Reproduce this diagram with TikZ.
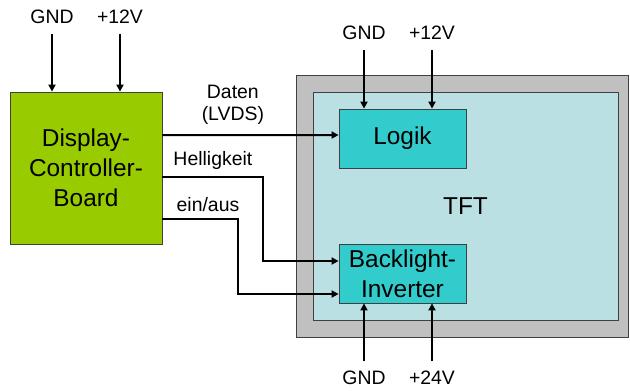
\documentclass[tikz,border=0pt]{standalone}
\usepackage{fontspec}
\setmainfont{Liberation Sans}
\usetikzlibrary{arrows.meta}

\definecolor{boardgreen}{RGB}{153,204,0}
\definecolor{unitteal}{RGB}{51,204,204}
\definecolor{panelblue}{RGB}{187,224,227}
\definecolor{framegray}{RGB}{192,192,192}

\begin{document}
\begin{tikzpicture}[
    x=1bp, y=-1bp,
    % Define Styles
    block/.style={
        draw=black!75,
        line width=0.8bp,
        inner sep=0pt,
        align=center,
        font=\fontsize{24.5}{30}\selectfont
    },
    board/.style={
        block,
        fill=boardgreen,
        minimum width=152bp,
        minimum height=152bp
    },
    unit/.style={
        block,
        fill=unitteal,
        minimum width=127bp,
        minimum height=59bp
    },
    pin/.style={
        inner xsep=0pt,
        inner ysep=10bp,
        text height=13.3bp,
        text depth=0pt,
        font=\fontsize{19.5}{22.5}\selectfont
    },
    sig/.style={
        align=center,
        font=\fontsize{19.5}{22.5}\selectfont
    },
    wire/.style={
        draw,
        line width=2bp,
        -{Triangle[length=7bp,width=7bp]}
    }
    ]

    \useasboundingbox (0,0) rectangle (630,390);

    % TFT frame
    \node[draw=black!75, line width=0.8bp, fill=framegray,
          minimum width=332bp, minimum height=262bp] (frame) at (462,206) {};
    \node[block, fill=panelblue, minimum width=305bp, minimum height=228bp] (panel) at (465.5,206) {TFT};

    % Blocks
    \node[board] (board) at (86,168) {Display-\\Controller-\\Board};
    \node[unit] (logik) at (402.5,138.5) {Logik};
    \node[unit] (bl) at (402.5,273.5) {Backlight-\\Inverter};

    % Supply labels
    \node[pin] (bgnd) at (52,16.7) {GND};
    \node[pin] (bvcc) at (120,16.7) {+12V};
    \node[pin] (lgnd) at (364,33.3) {GND};
    \node[pin] (lvcc) at (432,33.3) {+12V};
    \node[pin] (ignd) at (364,378.3) {GND};
    \node[pin] (ivcc) at (432,378.3) {+24V};

    % Supply arrows
    \draw[wire] (bgnd.south) -- (bgnd.south |- board.north);
    \draw[wire] (bvcc.south) -- (bvcc.south |- board.north);
    \draw[wire] (lgnd.south) -- (lgnd.south |- logik.north);
    \draw[wire] (lvcc.south) -- (lvcc.south |- logik.north);
    \draw[wire] (ignd.north) -- (ignd.north |- bl.south);
    \draw[wire] (ivcc.north) -- (ivcc.north |- bl.south);

    % Signals
    \draw[wire] ([yshift=33bp]board.east)
        -- node[sig, above, pos=0.4, inner sep=9bp] {Daten\\(LVDS)} ([yshift=3.5bp]logik.west);
    \draw[wire] ([yshift=-9bp]board.east)
        -- node[sig, above, inner sep=6bp] {Helligkeit} ++(101,0)
        |- ([yshift=12.5bp]bl.west);
    \draw[wire] ([yshift=-51bp]board.east)
        -- node[sig, above, pos=0.6, inner sep=6bp] {ein/aus} ++(76,0)
        |- ([yshift=-20.5bp]bl.west);

\end{tikzpicture}
\end{document}
